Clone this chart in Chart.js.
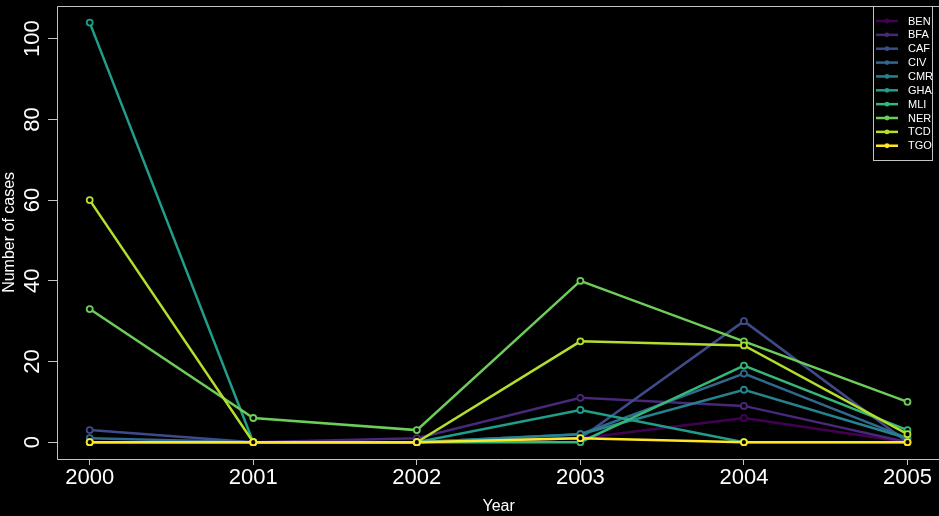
<!DOCTYPE html>
<html>
<head>
<meta charset="utf-8">
<script src="https://cdn.jsdelivr.net/npm/chart.js@4"></script>
<style>
  html, body { margin: 0; padding: 0; background: #000; overflow: hidden; }
  #wrap { width: 946px; height: 516px; }
</style>
</head>
<body>
<div id="wrap"><canvas id="c" width="946" height="516"></canvas></div>
<script>
// Reported cases per country and year
const years = [2000, 2001, 2002, 2003, 2004, 2005];
const countries = ['BEN', 'BFA', 'CAF', 'CIV', 'CMR', 'GHA', 'MLI', 'NER', 'TCD', 'TGO'];
const BEN = [0, 0, 0, 1, 6, 0];
const BFA = [0, 0, 1, 11, 9, 0];
const CAF = [3, 0, 0, 1, 30, 0];
const CIV = [1, 0, 0, 2, 17, 1];
const CMR = [0, 0, 0, 2, 13, 1];
const GHA = [104, 0, 0, 8, 0, 0];
const MLI = [0, 0, 0, 0, 19, 3];
const NER = [33, 6, 3, 40, 25, 10];
const TCD = [60, 0, 0, 25, 24, 2];
const TGO = [0, 0, 0, 1, 0, 0];
const yTickValues = [0, 20, 40, 60, 80, 100];
const xTickValues = years;

const seriesValues = [BEN, BFA, CAF, CIV, CMR, GHA, MLI, NER, TCD, TGO];
const palette = ['#440154', '#482878', '#3E4A89', '#31688E', '#26828E',
                 '#1F9E89', '#35B779', '#6DCD59', '#B4DE2C', '#FDE725'];

const FONT = '"Liberation Sans", Arial, sans-serif';
const AXIS_GREY = '#c4c4c4';

const datasets = countries.map((name, i) => ({
  label: name,
  data: years.map((yr, j) => ({ x: yr, y: seriesValues[i][j] })),
  borderColor: palette[i],
  backgroundColor: palette[i],
  borderWidth: 2.5,
  pointRadius: 3,
  pointBorderWidth: 1.8,
  pointBorderColor: palette[i],
  pointBackgroundColor: '#000',
  tension: 0,
  order: countries.length - i   // later countries are painted on top
}));

// black background
const background = {
  id: 'background',
  beforeDraw(chart) {
    const ctx = chart.ctx;
    ctx.save();
    ctx.fillStyle = '#000';
    ctx.fillRect(0, 0, chart.width, chart.height);
    ctx.restore();
  }
};

// frame around the plotting region, rotated y tick labels and the legend
const decorations = {
  id: 'decorations',
  afterDraw(chart) {
    const ctx = chart.ctx;
    const a = chart.chartArea;
    const ys = chart.scales.y;
    const L = Math.round(a.left) + 0.5, T = Math.round(a.top) + 0.5, B = Math.round(a.bottom) + 0.5;
    ctx.save();
    ctx.strokeStyle = AXIS_GREY;
    ctx.lineWidth = 1;
    ctx.beginPath();
    ctx.moveTo(chart.width, T);
    ctx.lineTo(L, T);
    ctx.lineTo(L, B);
    ctx.lineTo(chart.width, B);
    ctx.stroke();

    // y tick labels, rotated like the axis title
    ctx.fillStyle = '#fff';
    ctx.font = '22px ' + FONT;
    ctx.textAlign = 'center';
    ctx.textBaseline = 'middle';
    yTickValues.forEach(v => {
      const py = ys.getPixelForValue(v);
      ctx.save();
      ctx.translate(33, py);
      ctx.rotate(-Math.PI / 2);
      ctx.fillText(String(v), 0, 0);
      ctx.restore();
    });

    // legend
    const lx = 873, ly = 6, lw = 59, lh = 154, rowH = 13.86, firstRow = 21;
    ctx.fillStyle = '#000';
    ctx.fillRect(lx, ly, lw, lh);
    ctx.strokeStyle = AXIS_GREY;
    ctx.strokeRect(lx + 0.5, ly + 0.5, lw, lh);
    ctx.font = '11px ' + FONT;
    ctx.textAlign = 'left';
    ctx.textBaseline = 'middle';
    chart.data.datasets.forEach((ds, i) => {
      const y = firstRow + i * rowH;
      ctx.strokeStyle = ds.borderColor;
      ctx.lineWidth = 2.5;
      ctx.beginPath();
      ctx.moveTo(876, y);
      ctx.lineTo(898, y);
      ctx.stroke();
      ctx.fillStyle = ds.borderColor;
      ctx.beginPath();
      ctx.arc(887, y, 2.4, 0, Math.PI * 2);
      ctx.fill();
      ctx.fillStyle = '#fff';
      ctx.fillText(ds.label, 908, y + 0.5);
    });
    ctx.restore();
  }
};

new Chart(document.getElementById('c'), {
  type: 'line',
  data: { datasets },
  plugins: [background, decorations],
  options: {
    responsive: false,
    animation: false,
    devicePixelRatio: 1,
    layout: { padding: { top: 5.5, left: 0, right: 0, bottom: 0 } },
    plugins: {
      legend: { display: false },
      tooltip: { enabled: false }
    },
    scales: {
      x: {
        type: 'linear',
        min: 1999.8,
        max: 2005.2,
        afterBuildTicks: s => { s.ticks = xTickValues.map(v => ({ value: v })); },
        afterFit: s => { s.height = 57; s.paddingLeft = 0; s.paddingRight = 0; },
        border: { display: false },
        grid: { drawOnChartArea: false, drawTicks: true, tickLength: 6, color: AXIS_GREY },
        ticks: {
          color: '#fff',
          font: { family: FONT, size: 22 },
          padding: 0,
          maxRotation: 0,
          autoSkip: false,
          callback: v => String(v)
        },
        title: {
          display: true,
          text: 'Year',
          color: '#fff',
          font: { family: FONT, size: 16 },
          padding: 0
        }
      },
      y: {
        type: 'linear',
        min: -4.16,
        max: 108.16,
        afterBuildTicks: s => { s.ticks = yTickValues.map(v => ({ value: v })); },
        afterFit: s => { s.width = 57; s.paddingTop = 0; s.paddingBottom = 0; },
        border: { display: false },
        grid: { drawOnChartArea: false, drawTicks: true, tickLength: 9, color: AXIS_GREY },
        ticks: { display: false },
        title: {
          display: true,
          text: 'Number of cases',
          color: '#fff',
          font: { family: FONT, size: 16 },
          padding: 0
        }
      }
    }
  }
});
</script>
</body>
</html>
